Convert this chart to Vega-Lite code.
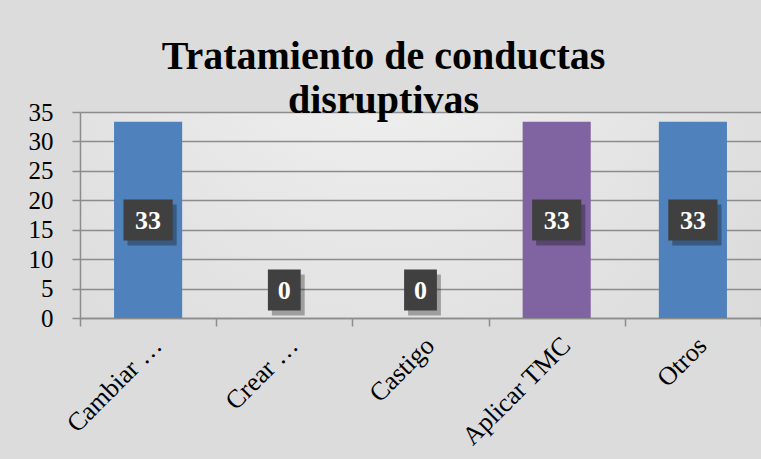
{
  "$schema": "https://vega.github.io/schema/vega-lite/v6.json",
  "width": 681,
  "height": 206,
  "autosize": "none",
  "padding": {"left": 80, "top": 112, "right": 0, "bottom": 141},
  "background": "#dcdcdc",
  "title": {
    "text": ["Tratamiento de conductas", "disruptivas"],
    "font": "Liberation Serif",
    "fontSize": 40,
    "fontWeight": "bold",
    "color": "#000000",
    "anchor": "middle",
    "dx": -37,
    "lineHeight": 44,
    "offset": -21
  },
  "config": {
    "view": {
      "stroke": null,
      "fill": {
        "gradient": "radial",
        "x1": 0.45, "y1": 0.2, "x2": 0.45, "y2": 0.2,
        "r1": 0, "r2": 0.75,
        "stops": [
          {"offset": 0, "color": "#f2f2f2"},
          {"offset": 1, "color": "#d9d9d9"}
        ]
      }
    },
    "axis": {
      "domainColor": "#8c8c8c",
      "domainWidth": 1.5,
      "tickColor": "#8c8c8c",
      "tickWidth": 1.5,
      "tickSize": 8,
      "gridColor": "#8c8c8c",
      "gridWidth": 1.5,
      "gridOpacity": 1,
      "labelFont": "Liberation Serif",
      "labelFontSize": 25,
      "labelColor": "#000000",
      "title": null
    }
  },
  "data": {
    "values": [
      {"category": "Cambiar …", "value": 33.33},
      {"category": "Crear …", "value": 0},
      {"category": "Castigo", "value": 0},
      {"category": "Aplicar TMC", "value": 33.33},
      {"category": "Otros", "value": 33.33}
    ]
  },
  "encoding": {
    "x": {
      "field": "category",
      "type": "nominal",
      "sort": null,
      "title": null,
      "scale": {"paddingInner": 0, "paddingOuter": 0},
      "axis": {
        "labelAngle": -45,
        "labelPadding": 6,
        "tickBand": "extent",
        "grid": false,
        "labelLimit": 300,
        "labelFontSize": 26
      }
    }
  },
  "layer": [
    {
      "mark": {"type": "bar", "width": {"band": 0.5}},
      "encoding": {
        "y": {
          "field": "value",
          "type": "quantitative",
          "title": null,
          "scale": {"domain": [0, 35], "nice": false},
          "axis": {"values": [0, 5, 10, 15, 20, 25, 30, 35], "grid": true, "labelPadding": 19}
        },
        "color": {
          "field": "category",
          "type": "nominal",
          "legend": null,
          "scale": {
            "domain": ["Cambiar …", "Crear …", "Castigo", "Aplicar TMC", "Otros"],
            "range": ["#4f81bd", "#c0504d", "#9bbb59", "#8064a2", "#4f81bd"]
          }
        }
      }
    },
    {
      "transform": [
        {"filter": "datum.value > 0"},
        {"calculate": "datum.value / 2", "as": "mid"}
      ],
      "mark": {"type": "point", "shape": "M-1.2,-1H1.2V1H-1.2Z", "filled": true, "fill": "#000000", "opacity": 0.3, "size": 1681, "strokeWidth": 0, "xOffset": 4, "yOffset": 5},
      "encoding": {"y": {"field": "mid", "type": "quantitative", "title": null, "axis": {"values": [0, 5, 10, 15, 20, 25, 30, 35], "grid": true, "labelPadding": 19}}}
    },
    {
      "transform": [
        {"filter": "datum.value > 0"},
        {"calculate": "datum.value / 2", "as": "mid"}
      ],
      "mark": {"type": "point", "shape": "M-1.2,-1H1.2V1H-1.2Z", "filled": true, "fill": "#404040", "opacity": 1, "size": 1681, "strokeWidth": 0},
      "encoding": {"y": {"field": "mid", "type": "quantitative", "title": null, "axis": {"values": [0, 5, 10, 15, 20, 25, 30, 35], "grid": true, "labelPadding": 19}}}
    },
    {
      "transform": [
        {"filter": "datum.value > 0"},
        {"calculate": "datum.value / 2", "as": "mid"}
      ],
      "mark": {"type": "text", "font": "Liberation Serif", "fontSize": 26, "fontWeight": "bold", "color": "#ffffff", "baseline": "middle", "dy": 1},
      "encoding": {
        "y": {"field": "mid", "type": "quantitative", "title": null, "axis": {"values": [0, 5, 10, 15, 20, 25, 30, 35], "grid": true, "labelPadding": 19}},
        "text": {"field": "value", "type": "quantitative", "format": ".0f"}
      }
    },
    {
      "transform": [{"filter": "datum.value == 0"}],
      "mark": {"type": "point", "shape": "M-0.8,-1H0.8V1H-0.8Z", "filled": true, "fill": "#000000", "opacity": 0.3, "size": 1681, "strokeWidth": 0, "xOffset": 4, "yOffset": -23},
      "encoding": {"y": {"field": "value", "type": "quantitative", "title": null, "axis": {"values": [0, 5, 10, 15, 20, 25, 30, 35], "grid": true, "labelPadding": 19}}}
    },
    {
      "transform": [{"filter": "datum.value == 0"}],
      "mark": {"type": "point", "shape": "M-0.8,-1H0.8V1H-0.8Z", "filled": true, "fill": "#404040", "opacity": 1, "size": 1681, "strokeWidth": 0, "yOffset": -28},
      "encoding": {"y": {"field": "value", "type": "quantitative", "title": null, "axis": {"values": [0, 5, 10, 15, 20, 25, 30, 35], "grid": true, "labelPadding": 19}}}
    },
    {
      "transform": [{"filter": "datum.value == 0"}],
      "mark": {"type": "text", "font": "Liberation Serif", "fontSize": 26, "fontWeight": "bold", "color": "#ffffff", "baseline": "middle", "dy": 1, "yOffset": -28},
      "encoding": {
        "y": {"field": "value", "type": "quantitative", "title": null, "axis": {"values": [0, 5, 10, 15, 20, 25, 30, 35], "grid": true, "labelPadding": 19}},
        "text": {"field": "value", "type": "quantitative", "format": ".0f"}
      }
    }
  ]
}
